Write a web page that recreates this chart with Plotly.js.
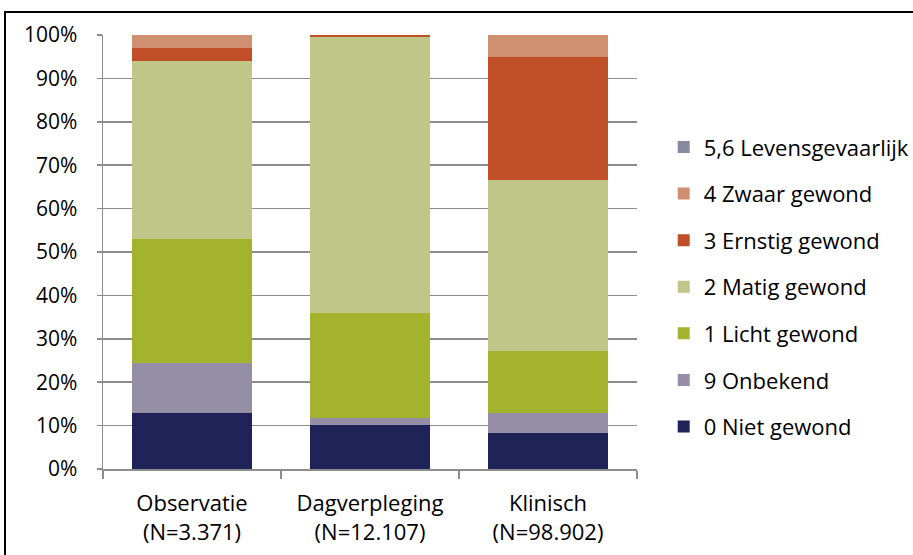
<!DOCTYPE html>
<html>
<head>
<meta charset="utf-8">
<script src="https://cdn.plot.ly/plotly-3.0.1.min.js"></script>
<style>
html,body{margin:0;padding:0;background:#fff;}
#wrap{position:relative;width:913px;height:555px;overflow:hidden;}
#frame{position:absolute;left:4px;top:11px;width:1000px;height:1000px;border-left:2px solid #000;border-top:2px solid #000;pointer-events:none;z-index:5;}
#chart{position:absolute;left:0;top:0;width:1000px;height:555px;}
</style>
</head>
<body>
<div id="wrap"><div id="chart"></div><div id="frame"></div></div>
<script>
const categories = ["Observatie<br>(N=3.371)", "Dagverpleging<br>(N=12.107)", "Klinisch<br>(N=98.902)"];
const seriesNames = ["0 Niet gewond", "9 Onbekend", "1 Licht gewond", "2 Matig gewond", "3 Ernstig gewond", "4 Zwaar gewond", "5,6 Levensgevaarlijk"];
const nietGewond = [12.8, 10.2, 8.2];
const onbekend = [11.7, 1.6, 4.6];
const lichtGewond = [28.5, 24.1, 14.4];
const matigGewond = [41.1, 63.6, 39.4];
const ernstigGewond = [2.9, 0.4, 28.3];
const zwaarGewond = [3.0, 0.1, 5.0];
const levensgevaarlijk = [0.0, 0.0, 0.1];
const yTickVals = [0, 10, 20, 30, 40, 50, 60, 70, 80, 90, 100];
const yTickText = ["0%", "10%", "20%", "30%", "40%", "50%", "60%", "70%", "80%", "90%", "100%"];

const values = [nietGewond, onbekend, lichtGewond, matigGewond, ernstigGewond, zwaarGewond, levensgevaarlijk];
const colors = ["#1F2357", "#948FA6", "#A3B32E", "#BFC687", "#C04E27", "#CF9072", "#888AA0"];

const traces = seriesNames.map((n, i) => ({
  type: "bar",
  name: n,
  x: categories,
  y: values[i],
  legendgroup: "g" + i,
  legendrank: 100 - i,
  marker: {color: colors[i], line: {width: 0}},
  hoverinfo: "name+y"
}));

const layout = {
  width: 1000, height: 555,
  margin: {l: 103, r: 363, t: 35, b: 86},
  barmode: "stack",
  bargap: 0.33,
  paper_bgcolor: "#fff",
  plot_bgcolor: "#fff",
  font: {family: "Open Sans, sans-serif", size: 22, color: "#000"},
  xaxis: {
    type: "category",
    showline: true, linecolor: "#8c8c8c", linewidth: 1.5,
    ticks: "outside", ticklen: 8, tickcolor: "#8c8c8c", tickwidth: 1.5,
    tickson: "boundaries",
    showgrid: false,
    tickfont: {family: "Open Sans, sans-serif", size: 22, color: "#000"},
    ticklabelstandoff: 14
  },
  yaxis: {
    range: [0, 100],
    tickvals: yTickVals, ticktext: yTickText,
    showline: true, linecolor: "#8c8c8c", linewidth: 1.5,
    ticks: "outside", ticklen: 5, tickcolor: "#8c8c8c", tickwidth: 1.5,
    showgrid: true, gridcolor: "#8c8c8c", gridwidth: 1.5,
    zeroline: false,
    tickfont: {family: "Open Sans, sans-serif", size: 21, color: "#000"},
    ticklabelstandoff: 15
  },
  legend: {
    x: 1.05, xanchor: "left", y: 0.79, yanchor: "top",
    traceorder: "grouped",
    tracegroupgap: 15,
    font: {family: "Open Sans, sans-serif", size: 22, color: "#000"},
    itemwidth: 30,
    bgcolor: "rgba(0,0,0,0)"
  },
  showlegend: true
};

Plotly.newPlot("chart", traces, layout, {displayModeBar: false, staticPlot: true});
</script>
</body>
</html>
